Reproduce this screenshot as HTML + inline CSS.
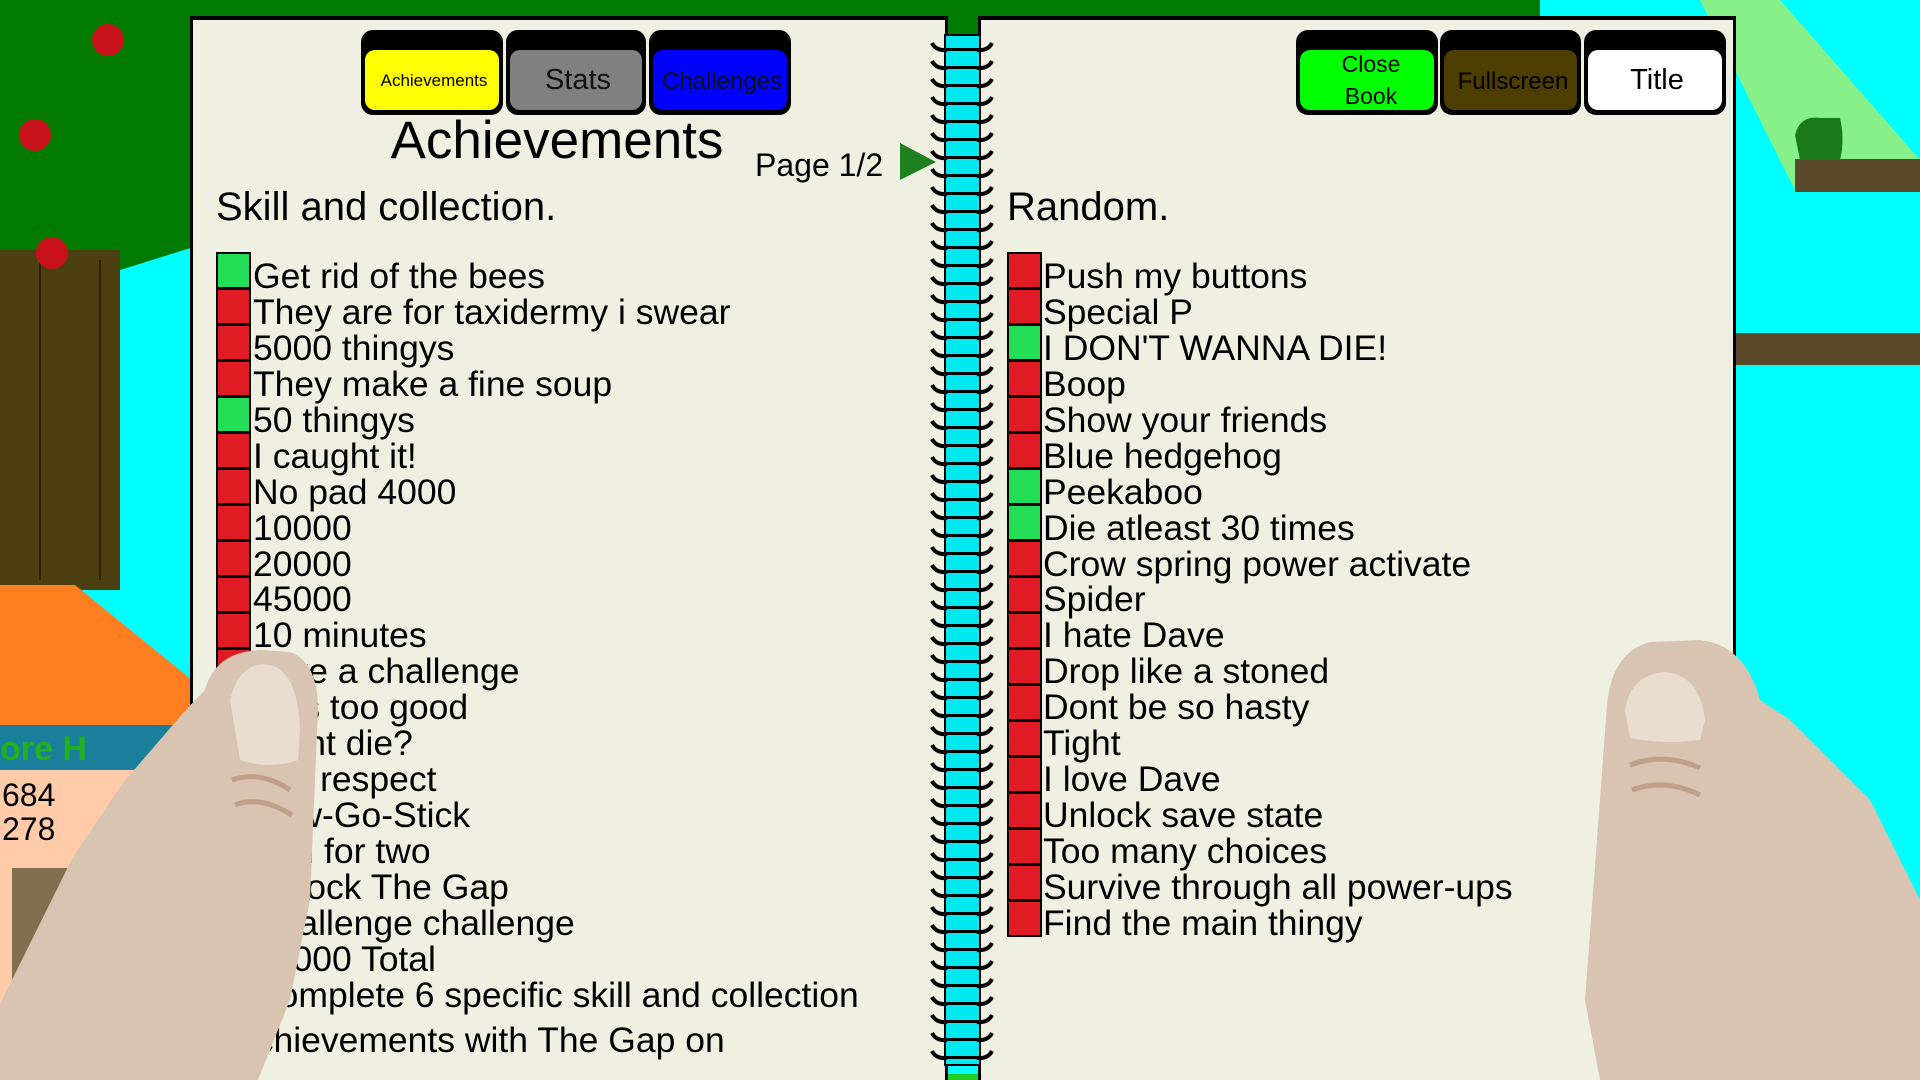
<!DOCTYPE html>
<html><head><meta charset="utf-8"><style>
html,body{margin:0;padding:0;width:1920px;height:1080px;overflow:hidden;background:#00ffff}
svg{display:block}
text{font-family:"Liberation Sans",sans-serif}
</style></head><body>
<svg width="1920" height="1080" viewBox="0 0 1920 1080" xmlns="http://www.w3.org/2000/svg">
<defs>
<pattern id="ring" x="930" y="40" width="64" height="18" patternUnits="userSpaceOnUse">
<path d="M2,3 Q6,11 17,10" stroke="#000" stroke-width="4" fill="none"/>
<path d="M62,3 Q58,11 47,10" stroke="#000" stroke-width="4" fill="none"/>
</pattern>
<pattern id="core" x="945" y="40" width="40" height="18" patternUnits="userSpaceOnUse">
<rect width="40" height="18" fill="#00e8f0"/>
<rect y="8" width="40" height="3" fill="#000"/>
</pattern>
</defs>
<rect width="1920" height="1080" fill="#00ffff"/>
<rect x="0" y="0" width="1540" height="40" fill="#007a00"/>
<path d="M0,0 L200,0 L200,245 L120,270 L0,290 Z" fill="#007a00"/>
<rect x="0" y="250" width="120" height="340" fill="#4d4010"/>
<line x1="40" y1="260" x2="40" y2="580" stroke="#2a2208" stroke-width="2"/>
<line x1="100" y1="260" x2="100" y2="580" stroke="#2a2208" stroke-width="2"/>
<circle cx="108" cy="40" r="16" fill="#c8101a"/><circle cx="35" cy="135" r="16" fill="#c8101a"/><circle cx="52" cy="253" r="16" fill="#c8101a"/>
<path d="M0,585 L75,585 L192,680 L192,725 L0,725 Z" fill="#ff7f20"/>
<rect x="0" y="725" width="192" height="45" fill="#1a7f9a"/>
<text x="0" y="760" font-size="34" font-weight="bold" fill="#22b022">ore H</text>
<rect x="0" y="770" width="192" height="310" fill="#ffcba8"/>
<text x="2" y="806" font-size="32">684</text><text x="2" y="840" font-size="32">278</text>
<rect x="12" y="868" width="80" height="212" fill="#807050"/>
<path d="M1510,0 L1780,0 L1920,160 L1920,190 L1795,190 L1700,0 Z" fill="#88f088"/>
<rect x="1795" y="159" width="125" height="33" fill="#5a4a2a"/>
<rect x="1734" y="333" width="186" height="32" fill="#5a4a2a"/>
<path d="M1795,135 Q1800,115 1820,118 L1840,118 Q1845,140 1840,160 L1800,160 Z" fill="#1a7a1a"/>
<rect x="1880" y="960" width="40" height="120" fill="#22cc22"/>
<rect x="192" y="1074" width="1542" height="6" fill="#22cc22"/>
<rect x="190" y="16" width="758" height="1070" fill="#000"/>
<rect x="193" y="20" width="752" height="1062" fill="#f0f0e2"/>
<rect x="978" y="16" width="758" height="1070" fill="#000"/>
<rect x="981" y="20" width="752" height="1062" fill="#f0f0e2"/>
<rect x="945" y="35" width="35" height="1030" fill="url(#core)" stroke="#000" stroke-width="2"/>
<rect x="930" y="40" width="64" height="1020" fill="url(#ring)"/>
<g>
<rect x="361" y="30" width="142" height="85" rx="12" fill="#000"/>
<rect x="365" y="50" width="134" height="60" rx="10" fill="#ffff00"/>
<text x="434" y="86" font-size="17" text-anchor="middle">Achievements</text>
<rect x="506" y="30" width="140" height="85" rx="12" fill="#000"/>
<rect x="510" y="50" width="132" height="60" rx="10" fill="#808080"/>
<text x="578" y="89" font-size="29" text-anchor="middle" fill="#111">Stats</text>
<rect x="649" y="30" width="142" height="85" rx="12" fill="#000"/>
<rect x="653" y="50" width="134" height="60" rx="10" fill="#0000ff"/>
<text x="722" y="89" font-size="24" text-anchor="middle" fill="#111">Challenges</text>
</g>
<g>
<rect x="1296" y="30" width="142" height="85" rx="12" fill="#000"/>
<rect x="1300" y="50" width="134" height="60" rx="10" fill="#00ff00"/>
<text x="1371" y="72" font-size="23" text-anchor="middle">Close</text>
<text x="1371" y="104" font-size="23" text-anchor="middle">Book</text>
<rect x="1440" y="30" width="141" height="85" rx="12" fill="#000"/>
<rect x="1444" y="50" width="133" height="60" rx="10" fill="#4d3e00"/>
<text x="1513" y="89" font-size="24" text-anchor="middle" fill="#000">Fullscreen</text>
<rect x="1584" y="30" width="142" height="85" rx="12" fill="#000"/>
<rect x="1588" y="50" width="134" height="60" rx="10" fill="#fff"/>
<text x="1657" y="89" font-size="29" text-anchor="middle">Title</text>
</g>
<text x="557" y="158" font-size="53" text-anchor="middle">Achievements</text>
<text x="755" y="176" font-size="32">Page 1/2</text>
<polygon points="900,143 900,180 936,162" fill="#208020"/>
<text x="216" y="220" font-size="40">Skill and collection.</text>
<text x="1007" y="220" font-size="40">Random.</text>
<g font-size="35.5">
<g stroke="#000" stroke-width="2">
<rect x="217" y="253" width="33" height="35" fill="#22dd55"/>
<rect x="217" y="289" width="33" height="35" fill="#e01b24"/>
<rect x="217" y="325" width="33" height="35" fill="#e01b24"/>
<rect x="217" y="361" width="33" height="35" fill="#e01b24"/>
<rect x="217" y="397" width="33" height="35" fill="#22dd55"/>
<rect x="217" y="433" width="33" height="35" fill="#e01b24"/>
<rect x="217" y="469" width="33" height="35" fill="#e01b24"/>
<rect x="217" y="505" width="33" height="35" fill="#e01b24"/>
<rect x="217" y="541" width="33" height="35" fill="#e01b24"/>
<rect x="217" y="577" width="33" height="35" fill="#e01b24"/>
<rect x="217" y="613" width="33" height="35" fill="#e01b24"/>
<rect x="217" y="649" width="33" height="35" fill="#e01b24"/>
</g>
<text x="253" y="288">Get rid of the bees</text>
<text x="253" y="324">They are for taxidermy i swear</text>
<text x="253" y="360">5000 thingys</text>
<text x="253" y="396">They make a fine soup</text>
<text x="253" y="432">50 thingys</text>
<text x="253" y="468">I caught it!</text>
<text x="253" y="504">No pad 4000</text>
<text x="253" y="540">10000</text>
<text x="253" y="576">20000</text>
<text x="253" y="611">45000</text>
<text x="253" y="647">10 minutes</text>
<text x="253" y="683">Take a challenge</text>
<text x="253" y="719">This too good</text>
<text x="253" y="755">Didnt die?</text>
<text x="253" y="791">Full respect</text>
<text x="253" y="827">Pow-Go-Stick</text>
<text x="253" y="863">Fun for two</text>
<text x="253" y="899">Unlock The Gap</text>
<text x="253" y="935">Challenge challenge</text>
<text x="253" y="971">10000 Total</text>
<text x="253" y="1007">Complete 6 specific skill and collection</text>
<text x="236" y="1052">achievements with The Gap on</text>
</g>
<g font-size="35.5">
<g stroke="#000" stroke-width="2">
<rect x="1008" y="253" width="33" height="35" fill="#e01b24"/>
<rect x="1008" y="289" width="33" height="35" fill="#e01b24"/>
<rect x="1008" y="325" width="33" height="35" fill="#22dd55"/>
<rect x="1008" y="361" width="33" height="35" fill="#e01b24"/>
<rect x="1008" y="397" width="33" height="35" fill="#e01b24"/>
<rect x="1008" y="433" width="33" height="35" fill="#e01b24"/>
<rect x="1008" y="469" width="33" height="35" fill="#22dd55"/>
<rect x="1008" y="505" width="33" height="35" fill="#22dd55"/>
<rect x="1008" y="541" width="33" height="35" fill="#e01b24"/>
<rect x="1008" y="577" width="33" height="35" fill="#e01b24"/>
<rect x="1008" y="613" width="33" height="35" fill="#e01b24"/>
<rect x="1008" y="649" width="33" height="35" fill="#e01b24"/>
<rect x="1008" y="685" width="33" height="35" fill="#e01b24"/>
<rect x="1008" y="721" width="33" height="35" fill="#e01b24"/>
<rect x="1008" y="757" width="33" height="35" fill="#e01b24"/>
<rect x="1008" y="793" width="33" height="35" fill="#e01b24"/>
<rect x="1008" y="829" width="33" height="35" fill="#e01b24"/>
<rect x="1008" y="865" width="33" height="35" fill="#e01b24"/>
<rect x="1008" y="901" width="33" height="35" fill="#e01b24"/>
</g>
<text x="1043" y="288">Push my buttons</text>
<text x="1043" y="324">Special P</text>
<text x="1043" y="360">I DON'T WANNA DIE!</text>
<text x="1043" y="396">Boop</text>
<text x="1043" y="432">Show your friends</text>
<text x="1043" y="468">Blue hedgehog</text>
<text x="1043" y="504">Peekaboo</text>
<text x="1043" y="540">Die atleast 30 times</text>
<text x="1043" y="576">Crow spring power activate</text>
<text x="1043" y="611">Spider</text>
<text x="1043" y="647">I hate Dave</text>
<text x="1043" y="683">Drop like a stoned</text>
<text x="1043" y="719">Dont be so hasty</text>
<text x="1043" y="755">Tight</text>
<text x="1043" y="791">I love Dave</text>
<text x="1043" y="827">Unlock save state</text>
<text x="1043" y="863">Too many choices</text>
<text x="1043" y="899">Survive through all power-ups</text>
<text x="1043" y="935">Find the main thingy</text>
</g>
<path d="M0,1080 L0,1004 L73,857 L122,784 L184,712 L205,690 Q215,652 260,650 L290,652 Q318,662 318,710 L310,900 L290,1000 L258,1080 Z" fill="#d8c4b0"/>
<path d="M230,700 Q240,660 270,665 Q298,672 300,730 L298,760 Q270,770 240,760 Z" fill="#e9ddd0"/>
<path d="M232,780 Q260,770 290,790 M235,805 Q260,795 292,815" stroke="#c0a088" stroke-width="5" fill="none"/>
<path d="M1920,1080 L1920,900 L1870,800 L1790,720 L1760,700 Q1745,645 1700,640 L1650,642 Q1612,652 1607,705 L1585,1000 L1600,1080 Z" fill="#d8c4b0"/>
<path d="M1625,710 Q1630,675 1665,672 Q1700,675 1705,720 L1700,740 Q1665,745 1630,738 Z" fill="#e9ddd0"/>
<path d="M1630,765 Q1665,752 1700,768 M1632,790 Q1665,778 1700,795" stroke="#c0a088" stroke-width="5" fill="none"/>
</svg>
</body></html>
